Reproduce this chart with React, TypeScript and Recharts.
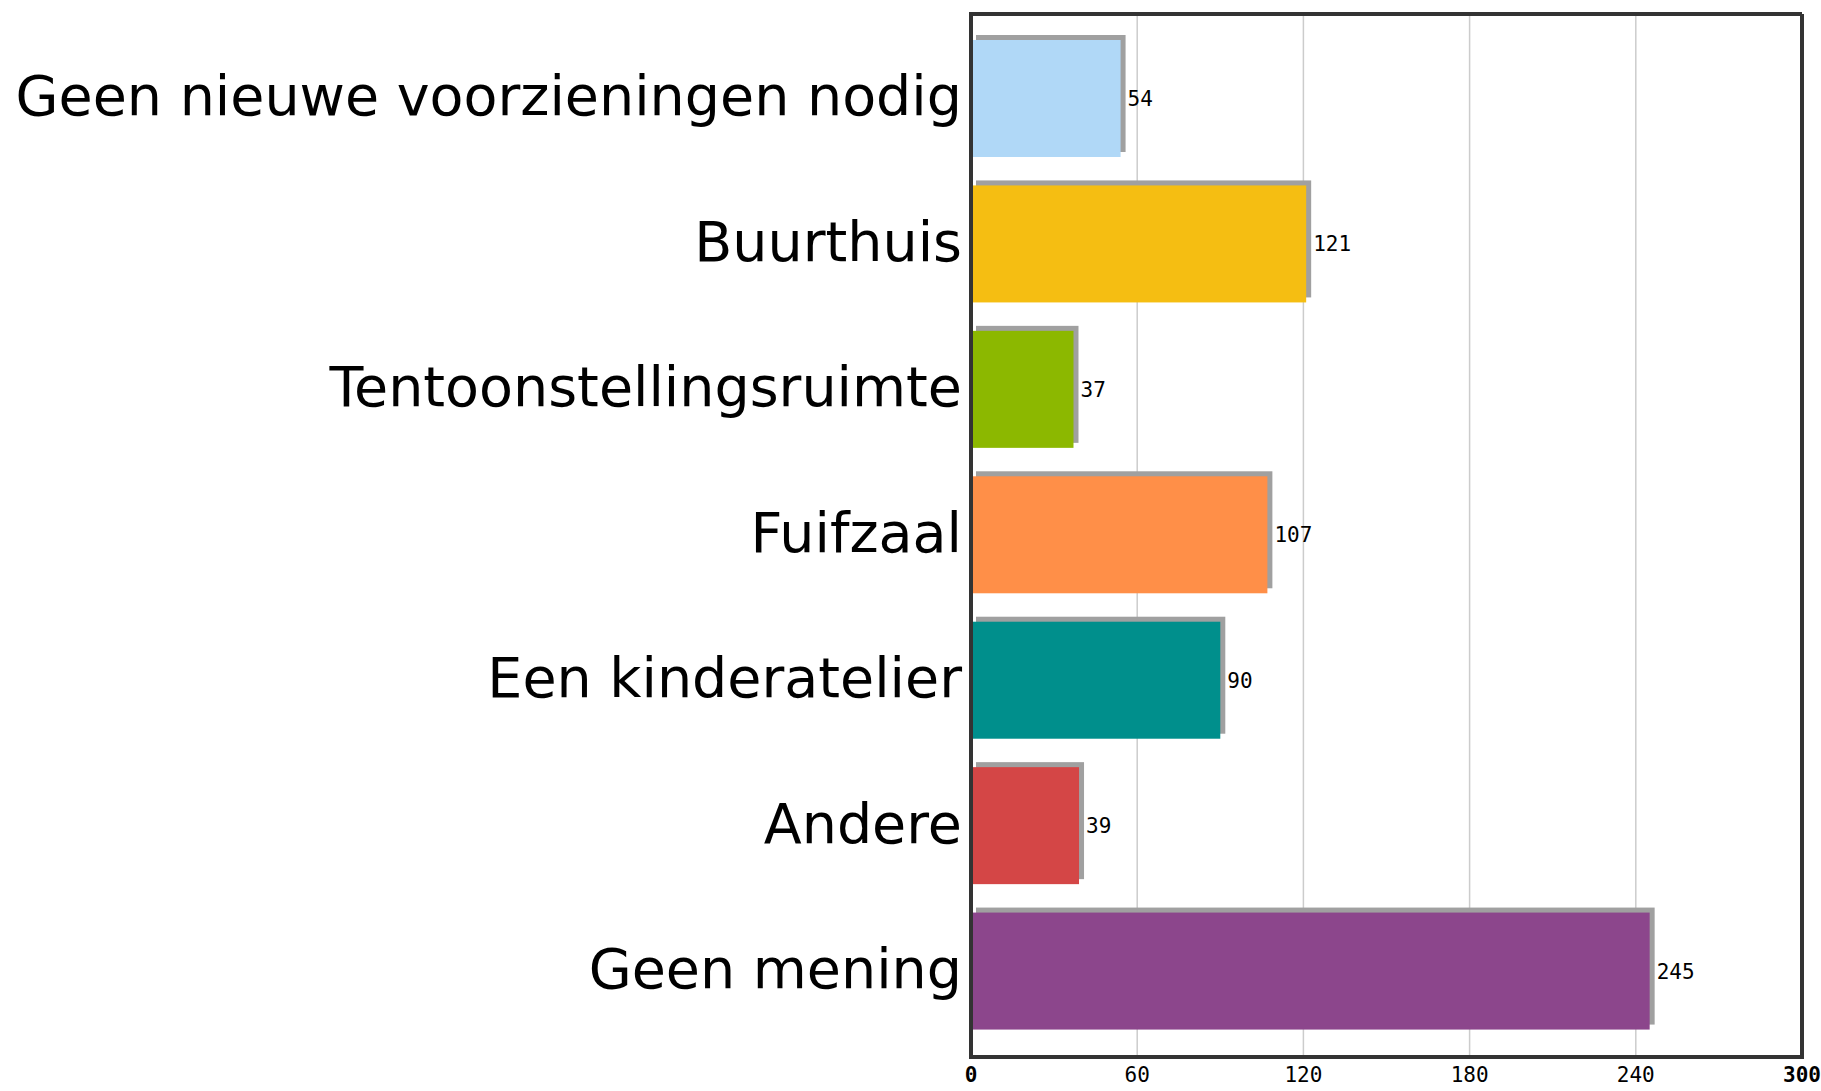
import { Bar, BarChart, CartesianGrid, Cell, LabelList, XAxis, YAxis } from 'recharts';

const categories = [
  'Geen nieuwe voorzieningen nodig',
  'Buurthuis',
  'Tentoonstellingsruimte',
  'Fuifzaal',
  'Een kinderatelier',
  'Andere',
  'Geen mening',
];
const counts = [54, 121, 37, 107, 90, 39, 245];
const barColors = ['#b0d8f7', '#f5be12', '#8cb800', '#ff8f48', '#008f8c', '#d44646', '#8c468c'];
const xTicks = [0, 60, 120, 180, 240, 300];

const data = categories.map((name, i) => ({ name, value: counts[i] }));

const frame = { stroke: '#333333', strokeWidth: 4, strokeLinecap: 'square' as const };

// outer box of the plot area, taken from the chart's own offset
const frameRows = ({ offset }: any) => [offset.top, offset.top + offset.height];
const frameCols = ({ offset }: any) => [offset.left, offset.left + offset.width];

const ShadowBar = (props: any) => {
  const { x, y, width, height, fill } = props;
  if (!width || width <= 0) return null;
  return (
    <g>
      <rect x={x + 5} y={y - 5} width={width} height={height} fill="#a0a0a0" />
      <rect x={x} y={y} width={width} height={height} fill={fill} />
    </g>
  );
};

const CategoryTick = ({ x, y, payload }: any) => (
  <text
    x={x}
    y={y}
    dy="0.3em"
    textAnchor="end"
    fill="#000"
    fontSize={55.5}
    fontFamily="DejaVu Sans, Verdana, sans-serif"
  >
    {payload.value}
  </text>
);

const ValueTick = ({ x, y, payload }: any) => {
  const edge = payload.value === 0 || payload.value === 300;
  return (
    <text
      x={x}
      y={y}
      dy="0.7em"
      textAnchor="middle"
      fill="#000"
      fontSize={21}
      fontWeight={edge ? 'bold' : 'normal'}
      fontFamily="DejaVu Sans Mono, monospace"
    >
      {payload.value}
    </text>
  );
};

export default function App() {
  document.body.style.margin = '0';
  return (
    <div style={{ width: 1821, height: 1091, background: '#fff' }}>
      <BarChart
        width={1821}
        height={1091}
        data={data}
        layout="vertical"
        margin={{ top: 14, right: 19, bottom: 0, left: 0 }}
        barSize={117}
      >
        <CartesianGrid horizontal={false} stroke="#cccccc" strokeWidth={1.5} />
        <CartesianGrid
          stroke="#333333"
          strokeWidth={4}
          horizontalCoordinatesGenerator={frameRows}
          verticalCoordinatesGenerator={frameCols}
        />
        <XAxis
          type="number"
          domain={[0, 300]}
          ticks={xTicks}
          height={34}
          axisLine={frame}
          tickLine={false}
          tick={<ValueTick />}
          tickMargin={4}
        />
        <YAxis
          type="category"
          dataKey="name"
          width={971}
          axisLine={frame}
          tickLine={false}
          tickSize={0}
          tickMargin={9}
          tick={<CategoryTick />}
          padding={{ top: 12, bottom: 13 }}
          interval={0}
        />
        <Bar dataKey="value" isAnimationActive={false} shape={<ShadowBar />}>
          {data.map((d, i) => (
            <Cell key={d.name} fill={barColors[i]} />
          ))}
          <LabelList
            dataKey="value"
            position="right"
            offset={7}
            fill="#000"
            fontSize={21}
            fontFamily="DejaVu Sans Mono, monospace"
          />
        </Bar>
      </BarChart>
    </div>
  );
}
